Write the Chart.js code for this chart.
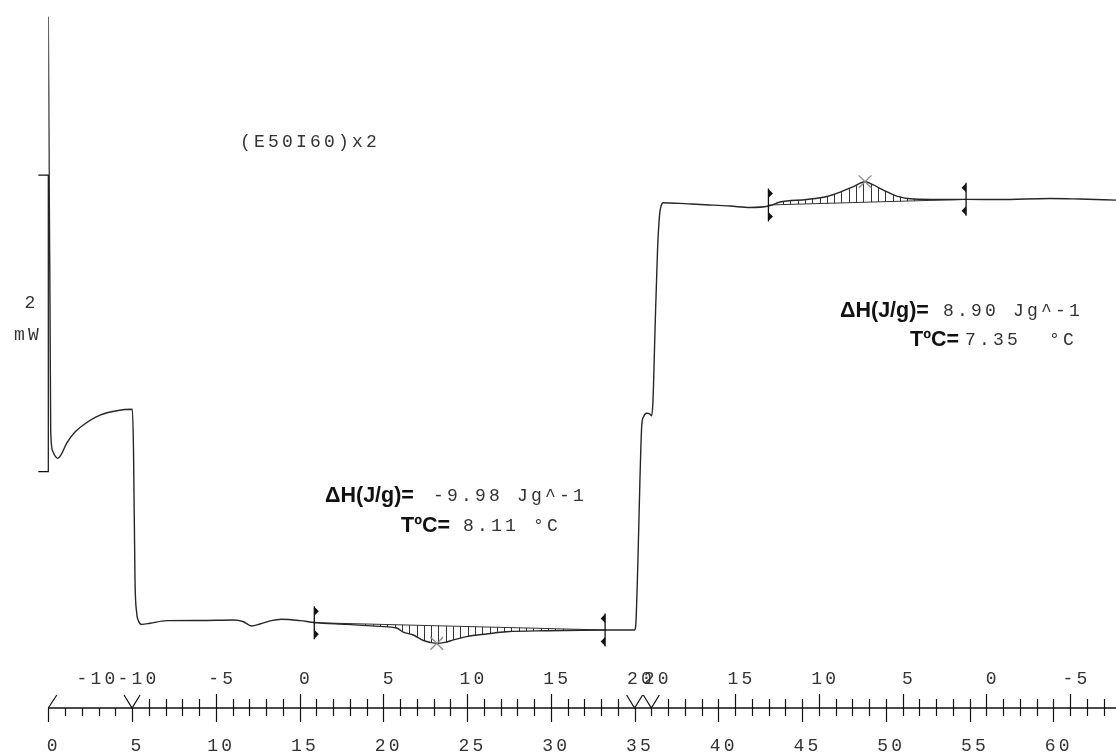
<!DOCTYPE html>
<html><head><meta charset="utf-8">
<style>html,body{margin:0;padding:0;background:#fff}#c{display:block}</style>
</head><body>
<canvas id="c" width="1116" height="754" style="width:1116px;height:754px"></canvas>
<script src="https://cdn.jsdelivr.net/npm/chart.js@4.4.0/dist/chart.umd.min.js"></script>
<script>
// ---- data (time in min, heat flow in mW relative to scale bar) ----
const timeMin = [0, 0.06, 0.10, 0.143, 0.26, 0.40, 0.561, 0.758, 1.10, 1.594,
  2.09, 3.087, 4.08, 5.015, 5.087, 5.176, 5.278, 5.385, 5.576, 6.072,
  7.069, 9.057, 11.045, 11.62, 12.14, 12.64, 13.24, 13.93, 15.03, 15.88,
  17.81, 19.80, 20.80, 21.19, 21.79, 22.39, 23.19, 23.68, 24.18, 24.98,
  26.17, 27.37, 29.76, 33.24, 35.0, 35.07, 35.20, 35.32, 35.43, 35.53,
  35.72, 35.92, 36.02, 36.10, 36.22, 36.37, 36.49, 36.58, 36.72, 37.12,
  37.71, 38.91, 40.70, 41.89, 42.99, 43.68, 45.28, 46.47, 47.27, 48.06,
  48.76, 49.26, 49.85, 50.65, 51.64, 53.24, 54.79, 56.82, 59.80, 61.59, 63.74];
const heatFlow = [3.067, 1.831, 1.157, 0.281, 0.140, 0.106, 0.090, 0.113, 0.193, 0.268,
  0.315, 0.381, 0.411, 0.421, 0.146, -0.730, -0.952, -1.006, -1.029, -1.022,
  -1.004, -1.003, -1.000, -1.010, -1.040, -1.027, -1.006, -0.995, -1.004, -1.017,
  -1.029, -1.043, -1.054, -1.081, -1.101, -1.138, -1.157, -1.151, -1.134, -1.112,
  -1.094, -1.079, -1.072, -1.067, -1.067, -1.034, -0.595, -0.056, 0.315, 0.369,
  0.394, 0.389, 0.377, 0.483, 0.955, 1.494, 1.730, 1.791, 1.813, 1.811,
  1.809, 1.801, 1.791, 1.781, 1.791, 1.818, 1.835, 1.855, 1.885, 1.922,
  1.955, 1.933, 1.899, 1.858, 1.838, 1.835, 1.836, 1.835, 1.842, 1.838, 1.831];

// integration limits and baselines
const intStart = [15.88, 42.99];
const intEnd = [33.24, 54.79];
const intBaseStart = [-1.018, 1.798];
const intBaseEnd = [-1.067, 1.836];
// peak markers
const peakTime = [23.19, 48.76];
const peakValue = [-1.157, 1.955];

// temperature program
const progTime = [0, 5, 35, 36, 63.74];
const progTemp = [-10, -10, 20, 20, -7.74];
const tempLabelTime = [2.55, 5, 10, 15, 20, 25, 30, 35, 36, 41, 46, 51, 56, 61];
const tempLabelText = ['-10', '-10', '-5', '0', '5', '10', '15', '20', '20', '15', '10', '5', '0', '-5'];
const timeLabelTime = [0, 5, 10, 15, 20, 25, 30, 35, 40, 45, 50, 55, 60];
const timeLabelText = ['0', '5', '10', '15', '20', '25', '30', '35', '40', '45', '50', '55', '60'];

// scale bar (mW)
const scaleBar = [0, 2];
const scaleBarLabel = ['2', 'mW'];

const sampleName = '(E50I60)x2';
const enthalpy = ['-9.98 Jg^-1', '8.90 Jg^-1'];
const peakTemp = ['8.11 °C', '7.35  °C'];

function interp(xs, ys, t) {
  if (t <= xs[0]) return ys[0];
  for (let i = 0; i < xs.length - 1; i++) {
    if (t >= xs[i] && t <= xs[i + 1]) {
      const f = (t - xs[i]) / (xs[i + 1] - xs[i]);
      return ys[i] + f * (ys[i + 1] - ys[i]);
    }
  }
  return ys[ys.length - 1];
}

const MONO = '18px "Liberation Mono", "DejaVu Sans Mono", monospace';
const BOLD = 'bold 21.5px "Liberation Sans", Arial, sans-serif';

const dscPlugin = {
  id: 'dsc',
  beforeDatasetsDraw(chart) {
    const { ctx, scales: { x, y } } = chart;
    ctx.save();
    ctx.strokeStyle = '#333';
    ctx.lineWidth = 1;
    for (let k = 0; k < intStart.length; k++) {
      const px0 = x.getPixelForValue(intStart[k]);
      const px1 = x.getPixelForValue(intEnd[k]);
      ctx.beginPath();
      ctx.moveTo(px0, y.getPixelForValue(intBaseStart[k]));
      ctx.lineTo(px1, y.getPixelForValue(intBaseEnd[k]));
      ctx.stroke();
      for (let px = px0 + 7.3; px < px1 - 2; px += 7.3) {
        const t = x.getValueForPixel(px);
        const b = intBaseStart[k] + (intBaseEnd[k] - intBaseStart[k]) * (t - intStart[k]) / (intEnd[k] - intStart[k]);
        const c = interp(timeMin, heatFlow, t);
        const yb = y.getPixelForValue(b), yc = y.getPixelForValue(c);
        if (Math.abs(yb - yc) < 1.5) continue;
        ctx.beginPath();
        ctx.moveTo(Math.round(px) + 0.5, yb);
        ctx.lineTo(Math.round(px) + 0.5, yc);
        ctx.stroke();
      }
    }
    ctx.restore();
  },
  afterDatasetsDraw(chart) {
    const { ctx, chartArea, scales: { x, y } } = chart;
    ctx.save();
    ctx.fillStyle = '#111';
    ctx.strokeStyle = '#111';
    ctx.lineWidth = 1.3;
    function marker(t, v, dir) {
      const px = x.getPixelForValue(t), py = y.getPixelForValue(v);
      ctx.beginPath();
      ctx.moveTo(px, py - 16.5); ctx.lineTo(px, py + 16.5); ctx.stroke();
      [-11.5, 11.5].forEach(o => {
        ctx.beginPath();
        ctx.moveTo(px, py + o - 4.5);
        ctx.lineTo(px + dir * 4.5, py + o);
        ctx.lineTo(px, py + o + 4.5);
        ctx.closePath();
        ctx.fill();
      });
    }
    for (let k = 0; k < intStart.length; k++) {
      marker(intStart[k], intBaseStart[k], 1);
      marker(intEnd[k], intBaseEnd[k], -1);
    }

    // scale bar
    const sx = chartArea.left;
    const sy0 = y.getPixelForValue(scaleBar[0]), sy1 = y.getPixelForValue(scaleBar[1]);
    ctx.strokeStyle = '#111';
    ctx.lineWidth = 1.2;
    ctx.beginPath();
    ctx.moveTo(sx - 10, sy1); ctx.lineTo(sx, sy1); ctx.lineTo(sx, sy0); ctx.lineTo(sx - 10, sy0);
    ctx.stroke();

    // axis
    const ay = chartArea.bottom;
    ctx.strokeStyle = '#111';
    ctx.lineWidth = 1.5;
    ctx.beginPath();
    ctx.moveTo(x.getPixelForValue(0), ay); ctx.lineTo(chartArea.right, ay);
    ctx.stroke();
    ctx.lineWidth = 1.2;
    const boundaries = progTime.slice(1, -1);
    const tMax = x.max;
    for (let t = 0; t <= Math.floor(tMax); t++) {
      const px = Math.round(x.getPixelForValue(t)) + 0.5;
      const down = (t % 5 === 0) ? 14 : 8;
      ctx.beginPath(); ctx.moveTo(px, ay); ctx.lineTo(px, ay + down); ctx.stroke();
      if (t === 0 || boundaries.includes(t)) continue;
      const seg = progTime.findIndex((pt, i) => i < progTime.length - 1 && t > pt && t < progTime[i + 1]);
      if (seg < 0 || progTemp[seg] === progTemp[seg + 1]) continue;
      const T = Math.round(interp(progTime, progTemp, t));
      const up = (T % 5 === 0) ? 14 : 9;
      ctx.beginPath(); ctx.moveTo(px, ay); ctx.lineTo(px, ay - up); ctx.stroke();
    }
    const p0 = x.getPixelForValue(0);
    ctx.beginPath(); ctx.moveTo(p0, ay); ctx.lineTo(p0 + 8.5, ay - 13); ctx.stroke();
    boundaries.forEach(t => {
      const px = x.getPixelForValue(t);
      ctx.beginPath();
      ctx.moveTo(px - 8, ay - 13); ctx.lineTo(px, ay); ctx.lineTo(px + 8, ay - 13);
      ctx.stroke();
    });

    // texts
    ctx.fillStyle = '#333';
    ctx.font = MONO;
    ctx.letterSpacing = '3.2px';
    ctx.textBaseline = 'middle';
    ctx.textAlign = 'center';
    tempLabelTime.forEach((t, i) => ctx.fillText(tempLabelText[i], x.getPixelForValue(t) + 6.5, ay - 29));
    timeLabelTime.forEach((t, i) => ctx.fillText(timeLabelText[i], x.getPixelForValue(t) + 5.5, ay + 38));
    ctx.fillText(scaleBarLabel[0], 31.5, 303);
    ctx.fillText(scaleBarLabel[1], 28, 335);
    ctx.textAlign = 'left';
    ctx.fillText(sampleName, 240, 142);
    ctx.fillText(enthalpy[0], 433, 496);
    ctx.fillText(peakTemp[0], 463, 526);
    ctx.fillText(enthalpy[1], 943, 311);
    ctx.fillText(peakTemp[1], 965, 340);

    ctx.letterSpacing = '0px';
    ctx.fillStyle = '#111';
    ctx.font = BOLD;
    ctx.fillText('\u0394H(J/g)=', 325, 496);
    ctx.fillText('TºC=', 401, 526);
    ctx.fillText('\u0394H(J/g)=', 840, 311);
    ctx.fillText('TºC=', 910, 340);
    ctx.restore();
  }
};

new Chart(document.getElementById('c'), {
  type: 'line',
  data: {
    datasets: [
      {
        type: 'line',
        data: timeMin.map((t, i) => ({ x: t, y: heatFlow[i] })),
        borderColor: '#262626', borderWidth: 1.4, pointRadius: 0,
        cubicInterpolationMode: 'monotone', fill: false, order: 1
      },
      {
        type: 'scatter',
        data: peakTime.map((t, i) => ({ x: t, y: peakValue[i] })),
        pointStyle: 'crossRot', pointRadius: 9, borderColor: '#8a8a8a', borderWidth: 1.3,
        backgroundColor: 'rgba(0,0,0,0)', order: 0
      }
    ]
  },
  options: {
    responsive: false, animation: false, devicePixelRatio: 1, events: [],
    layout: { autoPadding: false, padding: { left: 48.3, right: 0, top: 0, bottom: 46 } },
    plugins: { legend: { display: false }, tooltip: { enabled: false } },
    scales: {
      x: { type: 'linear', min: 0, max: 63.74, display: false },
      y: { type: 'linear', min: -1.593, max: 3.180, display: false }
    }
  },
  plugins: [dscPlugin]
});
</script>
</body></html>
